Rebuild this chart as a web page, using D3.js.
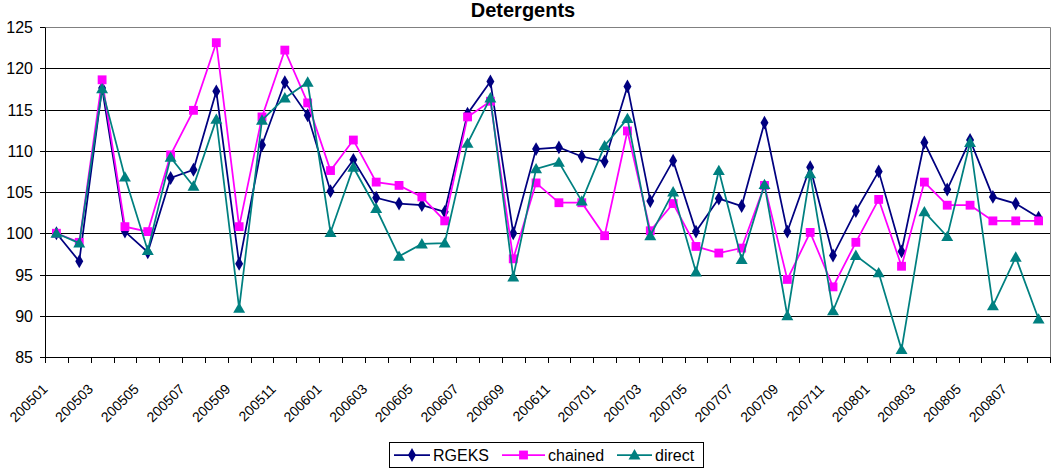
<!DOCTYPE html>
<html>
<head>
<meta charset="utf-8">
<script src="https://cdn.jsdelivr.net/npm/d3@7"></script>
<style>
  html, body { margin: 0; padding: 0; background: #fff; }
  svg { display: block; font-family: Arial, "Liberation Sans", sans-serif; }
</style>
</head>
<body>
<svg id="chart" width="1052" height="468"></svg>
<script>
// Monthly periods, 2005-01 .. 2008-08
const categories = [
  "200501","200502","200503","200504","200505","200506","200507","200508","200509","200510","200511","200512",
  "200601","200602","200603","200604","200605","200606","200607","200608","200609","200610","200611","200612",
  "200701","200702","200703","200704","200705","200706","200707","200708","200709","200710","200711","200712",
  "200801","200802","200803","200804","200805","200806","200807","200808"
];

const rgeks = [
  100.0, 96.6, 117.6, 100.2, 97.7, 106.7, 107.7, 117.2, 96.3, 110.7, 118.3, 114.3,
  105.1, 108.9, 104.3, 103.6, 103.4, 102.6, 114.5, 118.4, 100.0, 110.2, 110.4, 109.3,
  108.7, 117.8, 103.9, 108.8, 100.2, 104.2, 103.3, 113.4, 100.2, 108.0, 97.3, 102.7,
  107.5, 97.8, 111.0, 105.3, 111.3, 104.4, 103.6, 101.9
];

const chained = [
  100.0, 98.9, 118.6, 100.8, 100.2, 109.5, 114.9, 123.1, 100.8, 114.1, 122.2, 115.8,
  107.6, 111.3, 106.2, 105.8, 104.4, 101.5, 114.1, 116.0, 96.9, 106.1, 103.7, 103.7,
  99.7, 112.4, 100.3, 103.6, 98.4, 97.6, 98.2, 105.8, 94.4, 100.1, 93.5, 98.9,
  104.1, 96.0, 106.2, 103.4, 103.4, 101.5, 101.5, 101.5
];

const direct = [
  100.0, 98.8, 117.5, 106.8, 97.9, 109.2, 105.7, 113.8, 90.9, 113.7, 116.4, 118.3,
  100.1, 108.0, 103.0, 97.2, 98.7, 98.8, 110.9, 116.4, 94.7, 107.8, 108.6, 103.9,
  110.6, 113.9, 99.7, 105.0, 95.3, 107.6, 96.8, 105.9, 90.0, 107.2, 90.6, 97.3,
  95.2, 85.9, 102.6, 99.6, 111.0, 91.2, 97.1, 89.6
];

const yTicks = [85, 90, 95, 100, 105, 110, 115, 120, 125];
const xLabels = categories.filter((d, i) => i % 2 === 0);

const seriesNames = ["RGEKS", "chained", "direct"];
const seriesValues = [rgeks, chained, direct];
const seriesColors = ["#000080", "#FF00FF", "#008080"];
const seriesSymbols = [d3.symbolDiamond, d3.symbolSquare, d3.symbolTriangle];
const symbolSizes = [55, 78, 62];

const svg = d3.select("#chart");
const plotLeft = 45, plotRight = 1050, plotTop = 27, plotBottom = 357;

const x = d3.scaleBand().domain(categories).range([plotLeft, plotRight]);
const y = d3.scaleLinear().domain([85, 125]).range([plotBottom, plotTop]);
const yGrid = y.copy().interpolate(d3.interpolateRound);

// title
svg.append("text")
  .attr("x", 523).attr("y", 17)
  .attr("text-anchor", "middle")
  .style("font-size", "20px").style("font-weight", "bold")
  .text("Detergents");

// horizontal gridlines
svg.append("g")
  .selectAll("line")
  .data(yTicks.filter(v => v > 85 && v < 125))
  .join("line")
  .attr("x1", plotLeft).attr("x2", plotRight)
  .attr("y1", d => yGrid(d) + 0.5).attr("y2", d => yGrid(d) + 0.5)
  .attr("stroke", "#000").attr("stroke-width", 1);

// plot frame (top and right)
svg.append("path")
  .attr("d", `M${plotLeft},${yGrid(125) + 0.5}H${plotRight + 0.5}V${yGrid(85)}`)
  .attr("fill", "none").attr("stroke", "#808080").attr("stroke-width", 1);

// y axis
const yAxis = svg.append("g")
  .attr("transform", `translate(${plotLeft},0)`)
  .call(d3.axisLeft(yGrid).tickValues(yTicks).tickSize(5).tickPadding(7).tickSizeOuter(0));
yAxis.attr("font-family", null);
yAxis.select(".domain").attr("stroke", "#000");
yAxis.selectAll(".tick line").attr("stroke", "#000");
yAxis.selectAll(".tick text")
  .style("font-size", "16px").attr("fill", "#000");

// x axis line and ticks at category boundaries
const xAxisG = svg.append("g");
xAxisG.append("line")
  .attr("x1", plotLeft).attr("x2", plotRight + 0.5)
  .attr("y1", yGrid(85) + 0.5).attr("y2", yGrid(85) + 0.5)
  .attr("stroke", "#000");
const bounds = categories.map(c => x(c)).concat([plotRight]);
xAxisG.selectAll("line.tk")
  .data(bounds)
  .join("line").attr("class", "tk")
  .attr("x1", d => Math.round(d) + 0.5).attr("x2", d => Math.round(d) + 0.5)
  .attr("y1", yGrid(85)).attr("y2", yGrid(85) + 6)
  .attr("stroke", "#000");
xAxisG.selectAll("text")
  .data(xLabels)
  .join("text")
  .attr("text-anchor", "end")
  .attr("transform", d => `translate(${x(d) + x.bandwidth() / 2 - 8},${yGrid(85) + 33}) rotate(-45)`)
  .style("font-size", "14px")
  .text(d => d);

// series lines and markers
const line = d3.line()
  .x((d, i) => x(categories[i]) + x.bandwidth() / 2)
  .y(d => y(d));

seriesValues.forEach((vals, s) => {
  const g = svg.append("g");
  g.append("path")
    .datum(vals)
    .attr("d", line)
    .attr("fill", "none")
    .attr("stroke", seriesColors[s])
    .attr("stroke-width", 1.75)
    .attr("stroke-linejoin", "miter");
  g.selectAll("path.mk")
    .data(vals)
    .join("path").attr("class", "mk")
    .attr("d", d3.symbol().type(seriesSymbols[s]).size(symbolSizes[s]))
    .attr("transform", (d, i) => `translate(${x(categories[i]) + x.bandwidth() / 2},${y(d) + (s === 2 ? 1 : 0)})`)
    .attr("fill", seriesColors[s]);
});

// legend
const legend = svg.append("g");
legend.append("rect")
  .attr("x", 389.5).attr("y", 442.5).attr("width", 314).attr("height", 25)
  .attr("fill", "#fff").attr("stroke", "#000");
const legendItems = [
  { x0: 394, x1: 430, tx: 433 },
  { x0: 502, x1: 545, tx: 548 },
  { x0: 617, x1: 652, tx: 655 }
];
legendItems.forEach((it, s) => {
  const cy = 455;
  legend.append("line")
    .attr("x1", it.x0).attr("x2", it.x1).attr("y1", cy).attr("y2", cy)
    .attr("stroke", seriesColors[s]).attr("stroke-width", 1.75);
  legend.append("path")
    .attr("d", d3.symbol().type(seriesSymbols[s]).size(symbolSizes[s]))
    .attr("transform", `translate(${(it.x0 + it.x1) / 2},${cy + (s === 2 ? 1 : 0)})`)
    .attr("fill", seriesColors[s]);
  legend.append("text")
    .attr("x", it.tx).attr("y", cy + 6)
    .style("font-size", "16px")
    .text(seriesNames[s]);
});
</script>
</body>
</html>
